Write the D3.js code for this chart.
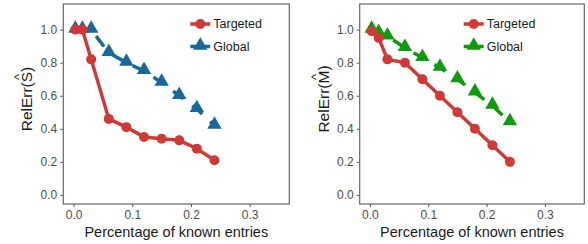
<!DOCTYPE html>
<html>
<head>
<meta charset="utf-8">
<script src="https://cdn.jsdelivr.net/npm/d3@7"></script>
<style>
  body { margin: 0; background: #fff; }
  svg { display: block; font-family: "Liberation Sans", Arial, sans-serif; }
</style>
</head>
<body>
<div id="chart"></div>
<script>
// ---------- data ----------
const xValues = [0.003, 0.015, 0.03, 0.06, 0.09, 0.12, 0.15, 0.18, 0.21, 0.24];
const sTargeted = [1.0, 1.0, 0.82, 0.46, 0.41, 0.35, 0.34, 0.33, 0.28, 0.21];
const sGlobal = [1.0, 1.0, 1.0, 0.86, 0.80, 0.75, 0.68, 0.60, 0.52, 0.42];
const mTargeted = [0.99, 0.95, 0.82, 0.80, 0.70, 0.60, 0.50, 0.40, 0.30, 0.20];
const mGlobal = [1.0, 0.98, 0.96, 0.89, 0.83, 0.77, 0.70, 0.62, 0.54, 0.44];
const xTicks = [0, 0.1, 0.2, 0.3];
const yTicks = [0, 0.2, 0.4, 0.6, 0.8, 1.0];
const seriesNames = ["Targeted", "Global"];

const W = 588, H = 244;
const red = "#cf3a36";

const svg = d3.select("#chart").append("svg")
  .attr("width", W).attr("height", H);

// ---------- one panel ----------
function panel(box, targeted, global, globalColor, letter) {
  const x = d3.scaleLinear().domain([-0.0175, 0.3675]).range([box.left, box.right]);
  const y = d3.scaleLinear().domain([-0.055, 1.155]).range([box.bottom, box.top]);
  const g = svg.append("g");

  // axes
  const xAxis = g.append("g")
    .attr("transform", `translate(0,${box.bottom})`)
    .call(d3.axisBottom(x).tickValues(xTicks).tickFormat(d3.format(".1f")).tickSize(3).tickPadding(3));
  const yAxis = g.append("g")
    .attr("transform", `translate(${box.left},0)`)
    .call(d3.axisLeft(y).tickValues(yTicks).tickFormat(d3.format(".1f")).tickSize(3).tickPadding(3));
  [xAxis, yAxis].forEach(a => {
    a.select(".domain").remove();
    a.selectAll(".tick line").attr("stroke", "#555");
    a.selectAll(".tick text").attr("fill", "#4d4d4d").style("font-size", "12px")
      .style("font-family", "'Liberation Sans', Arial, sans-serif");
  });

  // border
  g.append("rect")
    .attr("x", box.left).attr("y", box.top)
    .attr("width", box.right - box.left).attr("height", box.bottom - box.top)
    .attr("fill", "none").attr("stroke", "#666").attr("stroke-width", 1.2);

  const line = d3.line().x(d => x(d[0])).y(d => y(d[1]));
  const tData = xValues.map((v, i) => [v, targeted[i]]);
  const gData = xValues.map((v, i) => [v, global[i]]);
  const tri = d3.symbol().type(d3.symbolTriangle).size(90);

  // global (dashed + triangles)
  g.append("path").datum(gData).attr("d", line)
    .attr("fill", "none").attr("stroke", globalColor).attr("stroke-width", 3.5)
    .attr("stroke-dasharray", "13,11");
  g.selectAll(".tri").data(gData).enter().append("path")
    .attr("d", tri)
    .attr("transform", d => `translate(${x(d[0])},${y(d[1]) - 1})`)
    .attr("fill", globalColor);

  // targeted (solid + circles)
  g.append("path").datum(tData).attr("d", line)
    .attr("fill", "none").attr("stroke", red).attr("stroke-width", 3.5)
    .attr("stroke-linejoin", "round");
  g.selectAll(".dot").data(tData).enter().append("circle")
    .attr("cx", d => x(d[0])).attr("cy", d => y(d[1])).attr("r", 5)
    .attr("fill", red);

  // legend
  const lx = box.left + box.legend;
  const items = [
    { name: seriesNames[0], color: red, shape: "circle", y: 24 },
    { name: seriesNames[1], color: globalColor, shape: "tri", y: 46.5 }
  ];
  items.forEach(it => {
    g.append("line")
      .attr("x1", lx).attr("x2", lx + 20).attr("y1", it.y).attr("y2", it.y)
      .attr("stroke", it.color).attr("stroke-width", 3.5);
    if (it.shape === "circle") {
      g.append("circle").attr("cx", lx + 10).attr("cy", it.y).attr("r", 5).attr("fill", it.color);
    } else {
      g.append("path").attr("d", tri)
        .attr("transform", `translate(${lx + 10},${it.y - 1})`).attr("fill", it.color);
    }
    g.append("text")
      .attr("x", lx + 23).attr("y", it.y).attr("dy", "0.35em")
      .style("font-size", "12.5px").attr("fill", "#1a1a1a")
      .text(it.name);
  });

  // x title
  g.append("text")
    .attr("x", (box.left + box.right) / 2).attr("y", 237)
    .attr("text-anchor", "middle")
    .style("font-size", "14.5px").attr("fill", "#1a1a1a")
    .text("Percentage of known entries");

  // y title with hat
  const cy = (box.top + box.bottom) / 2 - 5;
  const yt = g.append("g").attr("transform", `translate(${box.left - 31},${cy}) rotate(-90)`);
  const t = yt.append("text")
    .attr("text-anchor", "middle")
    .style("font-size", "15.5px").attr("fill", "#1a1a1a")
    .text(`RelErr(${letter})`);
  const node = t.node();
  const pre = "RelErr(".length;
  const total = node.getComputedTextLength();
  const start = node.getSubStringLength(0, pre);
  const lw = node.getSubStringLength(pre, 1);
  yt.append("text")
    .attr("x", -total / 2 + start + lw / 2).attr("y", -9)
    .attr("text-anchor", "middle")
    .style("font-size", "13px").attr("fill", "#1a1a1a")
    .text("^");
}

panel({ left: 63.3, right: 289.3, top: 4, bottom: 204, legend: 127 }, sTargeted, sGlobal, "#19689b", "S");
panel({ left: 359.7, right: 584.3, top: 4, bottom: 204, legend: 104 }, mTargeted, mGlobal, "#109a10", "M");
</script>
</body>
</html>
